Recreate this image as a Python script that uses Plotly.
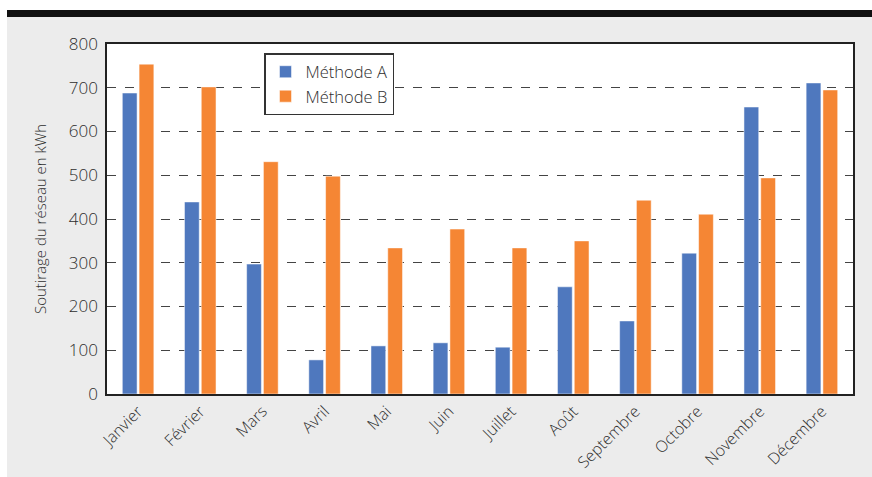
import plotly.graph_objects as go

mois = ["Janvier", "Février", "Mars", "Avril", "Mai", "Juin", "Juillet",
        "Août", "Septembre", "Octobre", "Novembre", "Décembre"]
methode_a = [688, 439, 297, 78, 110, 117, 107, 245, 167, 322, 656, 711]
methode_b = [754, 702, 531, 498, 334, 377, 334, 350, 443, 411, 494, 695]
y_ticks = [0, 100, 200, 300, 400, 500, 600, 700, 800]

FONT = "Open Sans"
TXT = "#2e2e2e"
WT = 300

fig = go.Figure()
fig.add_trace(go.Bar(name="Méthode A", x=mois, y=methode_a,
                     marker=dict(color="#4f78be", line=dict(color="rgba(255,255,255,0.5)", width=1))))
fig.add_trace(go.Bar(name="Méthode B", x=mois, y=methode_b,
                     marker=dict(color="#f58634", line=dict(color="rgba(255,255,255,0.5)", width=1))))

W, H = 872, 477
L, R, T, B = 107, 19, 44, 83
pw, ph = W - L - R, H - T - B

def px(x):
    return (x - L) / pw

def py(y):
    return (H - B - y) / ph

fig.update_layout(
    width=W, height=H,
    margin=dict(l=L, r=R, t=T, b=B),
    paper_bgcolor="#ececec",
    plot_bgcolor="white",
    barmode="group",
    bargap=0.46,
    bargroupgap=0.12,
    font=dict(family=FONT, color=TXT, size=15, weight=WT),
    showlegend=True,
    legend=dict(
        x=px(264), y=py(53), xanchor="left", yanchor="top",
        bgcolor="white", bordercolor="#333333", borderwidth=1.5,
        font=dict(family=FONT, size=16.5, color=TXT, weight=WT),
    ),
    xaxis=dict(
        tickangle=-45, tickfont=dict(family=FONT, size=16, color=TXT, weight=WT),
        showline=True, linecolor="#222222", linewidth=1.5, mirror=True,
        ticks="", showgrid=False, automargin=False,
    ),
    yaxis=dict(
        range=[0, 800], tickvals=y_ticks,
        tickfont=dict(family=FONT, size=17, color=TXT, weight=WT),
        ticklabelstandoff=4,
        title=dict(text="Soutirage du réseau en kWh", font=dict(family=FONT, size=15, color=TXT, weight=WT), standoff=18),
        showline=True, linecolor="#222222", linewidth=1.5, mirror=True,
        showgrid=True, gridcolor="#444444", griddash="dash", gridwidth=1,
        zeroline=False, ticks="", automargin=False,
    ),
    shapes=[
        dict(type="rect", xref="paper", yref="paper", x0=px(-5), x1=px(W + 5),
             y0=py(-5), y1=py(10), fillcolor="white", line=dict(width=0), layer="above"),
        dict(type="rect", xref="paper", yref="paper", x0=px(-5), x1=px(7),
             y0=py(-5), y1=py(H + 5), fillcolor="white", line=dict(width=0), layer="above"),
        dict(type="rect", xref="paper", yref="paper", x0=px(7), x1=px(W + 5),
             y0=py(10), y1=py(17), fillcolor="#111111", line=dict(width=0), layer="above"),
    ],
)

fig.write_html("out.html")
